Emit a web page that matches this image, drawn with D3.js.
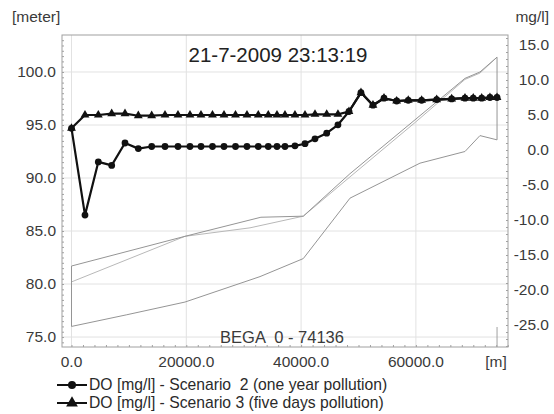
<!DOCTYPE html>
<html>
<head>
<meta charset="utf-8">
<script src="https://cdn.jsdelivr.net/npm/d3@7"></script>
<style>
  body { margin: 0; background: #fff; }
  svg { display: block; }
</style>
</head>
<body>
<svg id="chart"></svg>
<script>
// chainage along the river [m]
const stations = [0, 2350, 4670, 7000, 9320, 11640, 13970, 16290, 18550, 20640, 22560, 24560,
  26570, 28570, 30570, 32540, 34280, 35800, 37190, 38930, 40680, 42420, 44460, 46420, 48340,
  50430, 52520, 54440, 56650, 58670, 61000, 63620, 66230, 68550, 69990, 71460, 72900, 74136];

// DO [mg/l]
const doScenario2 = [3.1, -9.3, -1.7, -2.2, 1.0, 0.2, 0.5, 0.5, 0.5, 0.5, 0.5, 0.5,
  0.5, 0.5, 0.5, 0.5, 0.5, 0.5, 0.5, 0.6, 0.9, 1.6, 2.4, 3.6, 5.5,
  8.2, 6.4, 7.4, 7.0, 7.1, 7.1, 7.2, 7.3, 7.4, 7.4, 7.4, 7.5, 7.5];
const doScenario3 = [3.1, 5.0, 5.0, 5.2, 5.2, 4.9, 4.9, 5.0, 5.0, 5.0, 5.0, 5.0,
  5.0, 5.0, 5.0, 5.0, 5.0, 5.0, 5.0, 5.0, 5.0, 5.1, 5.1, 5.1, 5.5,
  8.2, 6.4, 7.4, 7.0, 7.1, 7.1, 7.2, 7.3, 7.4, 7.4, 7.4, 7.5, 7.5];

// profile lines [meter]
const bankX = [0, 0, 19770, 33000, 40380, 48500, 68548, 71160, 74136, 74136];
const bankY = [76.0, 81.7, 84.5, 86.3, 86.4, 90.4, 99.4, 100.0, 101.4, 93.6];
const levelX = [0, 19770, 31100, 40380, 48500, 60000, 68548, 71160, 74136];
const levelY = [80.2, 84.5, 85.3, 86.4, 90.1, 95.3, 99.3, 99.9, 101.4];
const bedX = [0, 9620, 19770, 32840, 40380, 48520, 60710, 68550, 71160, 74136];
const bedY = [76.0, 77.1, 78.3, 80.7, 82.4, 88.1, 91.4, 92.5, 94.0, 93.6];

const xTicks = [0, 20000, 40000, 60000];
const leftTicks = [75, 80, 85, 90, 95, 100];
const rightTicks = [-25, -20, -15, -10, -5, 0, 5, 10, 15];

const title = "21-7-2009 23:13:19";
const reach = "BEGA  0 - 74136";
const legendLabels = ["DO [mg/l] - Scenario  2 (one year pollution)",
  "DO [mg/l] - Scenario 3 (five days pollution)"];

const width = 554;
const height = 414;
const margin = {left: 62, right: 46, top: 35, bottom: 67};
const x0 = margin.left, x1 = width - margin.right;
const y0 = height - margin.bottom, y1 = margin.top;

var svg = d3.select('#chart').attr('width', width).attr('height', height)
  .style('font-family', "'Liberation Sans', Arial, sans-serif");

var x = d3.scaleLinear().domain([-1655, 76045]).range([x0, x1]);
var yL = d3.scaleLinear().domain([74.06, 103.49]).range([y0, y1]);
var yR = d3.scaleLinear().domain([-28.14, 16.43]).range([y0, y1]);

// grid
svg.append('g').selectAll('line').data(xTicks).join('line')
  .attr('x1', d => x(d)).attr('x2', d => x(d))
  .attr('y1', y1).attr('y2', y0)
  .attr('stroke', '#e2e2e2');
svg.append('g').selectAll('line').data(leftTicks).join('line')
  .attr('x1', x0).attr('x2', x1)
  .attr('y1', d => yL(d)).attr('y2', d => yL(d))
  .attr('stroke', '#e2e2e2');

// frame with minor ticks
svg.append('rect').attr('x', x0).attr('y', y1).attr('width', x1 - x0).attr('height', y0 - y1)
  .attr('fill', 'none').attr('stroke', '#a0a0a0');

var minor = (g) => {
  g.select('.domain').remove();
  g.selectAll('line').attr('stroke', '#a0a0a0');
};
svg.append('g').attr('transform', `translate(${x0},0)`)
  .call(d3.axisLeft(yL).tickValues(d3.range(74.5, 103.5, 0.5)).tickSize(-2).tickFormat(''))
  .call(minor);
svg.append('g').attr('transform', `translate(${x1},0)`)
  .call(d3.axisRight(yR).tickValues(d3.range(-28, 16.5, 1)).tickSize(-2).tickFormat(''))
  .call(minor);
svg.append('g').attr('transform', `translate(0,${y0})`)
  .call(d3.axisBottom(x).tickValues(d3.range(0, 76001, 2000)).tickSize(-2).tickFormat(''))
  .call(minor);

// tick labels
var tickText = {fill: '#3a3a3a', size: 15.5};
svg.append('g').selectAll('text').data(leftTicks).join('text')
  .attr('x', 56).attr('y', d => yL(d)).attr('dy', '0.35em')
  .attr('text-anchor', 'end').attr('font-size', tickText.size).attr('fill', tickText.fill)
  .text(d => d.toFixed(1));
svg.append('g').selectAll('text').data(rightTicks).join('text')
  .attr('x', 549).attr('y', d => yR(d)).attr('dy', '0.35em')
  .attr('text-anchor', 'end').attr('font-size', tickText.size).attr('fill', tickText.fill)
  .text(d => d.toFixed(1));
svg.append('g').selectAll('text').data(xTicks).join('text')
  .attr('x', d => x(d)).attr('y', 367)
  .attr('text-anchor', 'middle').attr('font-size', tickText.size).attr('fill', tickText.fill)
  .text(d => d.toFixed(1));
svg.append('text').attr('x', 496).attr('y', 367).attr('text-anchor', 'middle')
  .attr('font-size', tickText.size).attr('fill', tickText.fill).text('[m]');

svg.append('text').attr('x', 12).attr('y', 22).attr('font-size', 15.5).attr('fill', '#3a3a3a').text('[meter]');
svg.append('text').attr('x', 549).attr('y', 22).attr('text-anchor', 'end')
  .attr('font-size', 15.5).attr('fill', '#3a3a3a').text('mg/l]');

svg.append('text').attr('x', 278).attr('y', 62).attr('text-anchor', 'middle')
  .attr('font-size', 20.5).attr('fill', '#222').text(title);
svg.append('text').attr('x', 282).attr('y', 343).attr('text-anchor', 'middle')
  .attr('font-size', 16.5).attr('fill', '#3a3a3a').style('white-space', 'pre').text(reach);

// station marker at the end of the reach
svg.append('line').attr('x1', x(74136)).attr('x2', x(74136))
  .attr('y1', 327).attr('y2', y0).attr('stroke', '#a0a0a0');

// profile lines
var profile = d3.line().x(d => x(d[0])).y(d => yL(d[1]));
svg.append('path').datum(d3.zip(levelX, levelY))
  .attr('fill', 'none').attr('stroke', '#b8b8b8').attr('stroke-width', 1)
  .attr('d', profile);
svg.append('path').datum(d3.zip(bankX, bankY))
  .attr('fill', 'none').attr('stroke', '#959595').attr('stroke-width', 1)
  .attr('d', profile);
svg.append('path').datum(d3.zip(bedX, bedY))
  .attr('fill', 'none').attr('stroke', '#959595').attr('stroke-width', 1)
  .attr('d', profile);

// DO series
var doLine = d3.line().x(d => x(d[0])).y(d => yR(d[1]));
var triangle = d3.symbol().type(d3.symbolTriangle).size(34);

var s3 = d3.zip(stations, doScenario3);
svg.append('path').datum(s3)
  .attr('fill', 'none').attr('stroke', '#111').attr('stroke-width', 2.2)
  .attr('stroke-linejoin', 'round').attr('d', doLine);
svg.append('g').selectAll('path').data(s3).join('path')
  .attr('transform', d => `translate(${x(d[0])},${yR(d[1])})`)
  .attr('d', triangle).attr('fill', '#111');

var s2 = d3.zip(stations, doScenario2);
svg.append('path').datum(s2)
  .attr('fill', 'none').attr('stroke', '#111').attr('stroke-width', 2.2)
  .attr('stroke-linejoin', 'round').attr('d', doLine);
svg.append('g').selectAll('circle').data(s2).join('circle')
  .attr('cx', d => x(d[0])).attr('cy', d => yR(d[1])).attr('r', 3.4)
  .attr('fill', '#111');

// legend
var legend = svg.append('g');
legendLabels.forEach((label, i) => {
  var ly = 385 + i * 18;
  legend.append('line').attr('x1', 57).attr('x2', 87).attr('y1', ly).attr('y2', ly)
    .attr('stroke', '#111').attr('stroke-width', 2);
  if (i === 0) {
    legend.append('circle').attr('cx', 72).attr('cy', ly).attr('r', 4).attr('fill', '#111');
  } else {
    legend.append('path').attr('transform', `translate(72,${ly})`)
      .attr('d', d3.symbol().type(d3.symbolTriangle).size(60)).attr('fill', '#111');
  }
  legend.append('text').attr('x', 89).attr('y', ly).attr('dy', '0.35em')
    .attr('font-size', 15.7).attr('fill', '#2a2a2a').style('white-space', 'pre').text(label);
});
</script>
</body>
</html>
